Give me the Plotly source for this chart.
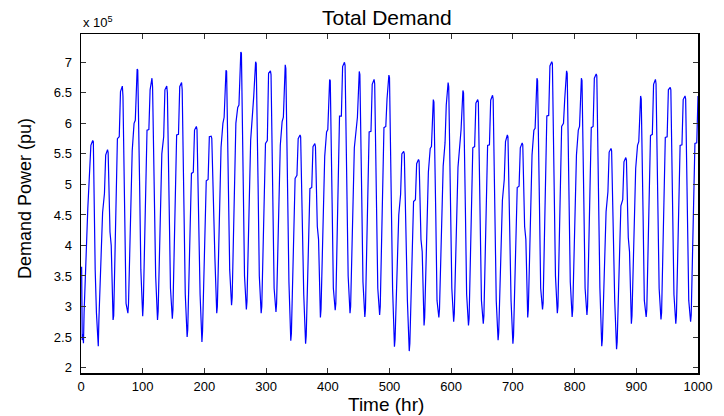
import plotly.graph_objects as go

# ---- data (demand in units of 1e5 pu) ----
hours_start = [1, 2, 3]
demand_start = [3.65, 2.45, 2.55]

# hour-of-day at which each daily level below is read
day_offsets = [4, 5, 11, 14, 16, 19, 20, 23, 25]

trough = [2.40, 2.35, 2.78, 2.89, 2.84, 2.78, 2.80,
          2.50, 2.42, 2.89, 3.02, 2.95, 2.89, 2.91,
          2.44, 2.39, 2.82, 2.94, 2.89, 2.83, 2.86,
          2.34, 2.27, 2.69, 2.82, 2.75, 2.69, 2.72,
          2.45, 2.39, 2.82, 2.95, 2.89, 2.83, 2.86,
          2.35, 2.30, 2.72, 2.83, 2.79, 2.72, 2.75]
trough2 = [2.90, 2.78, 2.85, 3.05, 3.05, 2.92, 2.95,
           2.62, 2.60, 3.00, 3.15, 3.08, 3.00, 3.05,
           2.56, 2.52, 2.95, 3.05, 3.00, 2.95, 3.00,
           2.46, 2.40, 2.82, 2.95, 2.88, 2.80, 2.85,
           2.57, 2.52, 2.95, 3.06, 3.00, 2.95, 3.00,
           2.46, 2.42, 2.85, 2.95, 2.90, 2.85, 2.86]
shoulder1 = [4.60, 4.54, 5.75, 5.55, 5.89, 5.50, 5.81,
             5.18, 5.06, 5.61, 6.00, 5.73, 5.67, 5.64,
             5.10, 4.93, 5.46, 6.12, 5.60, 5.86, 5.93,
             4.50, 4.72, 5.20, 5.30, 5.28, 5.60, 5.64,
             4.74, 4.95, 5.48, 6.12, 5.95, 5.48, 5.93,
             4.55, 4.65, 5.26, 5.80, 5.77, 5.64, 5.67]
shoulder2 = [5.30, 4.85, 5.78, 6.00, 5.90, 5.78, 5.82,
             5.20, 5.08, 6.00, 6.26, 6.14, 5.72, 6.03,
             5.15, 4.95, 5.86, 6.12, 5.98, 5.87, 5.95,
             4.84, 4.75, 5.59, 5.68, 5.70, 5.62, 5.65,
             5.08, 4.97, 5.89, 6.13, 6.00, 5.89, 5.95,
             4.88, 4.75, 5.64, 5.82, 5.78, 5.65, 5.68]
prepeak = [5.64, 5.48, 6.52, 6.05, 6.55, 6.55, 6.60,
           5.89, 5.78, 6.10, 6.30, 6.45, 6.82, 6.10,
           5.75, 5.62, 5.90, 6.93, 6.10, 6.64, 6.40,
           5.50, 5.34, 5.62, 6.30, 5.90, 6.33, 6.38,
           5.70, 5.60, 5.92, 6.94, 6.40, 5.95, 6.74,
           5.53, 5.37, 5.70, 6.64, 6.55, 6.39, 6.45]
peak = [5.72, 5.57, 6.61, 6.89, 6.74, 6.61, 6.67,
        5.95, 5.79, 6.87, 7.17, 7.01, 6.86, 6.96,
        5.81, 5.67, 6.72, 7.00, 6.85, 6.72, 6.79,
        5.54, 5.41, 6.39, 6.67, 6.54, 6.39, 6.46,
        5.81, 5.68, 6.74, 7.01, 6.86, 6.74, 6.81,
        5.59, 5.44, 6.45, 6.72, 6.59, 6.45]
peak2 = [5.70, 5.52, 6.45, 6.87, 6.60, 6.50, 6.55,
         5.90, 5.75, 6.85, 7.15, 6.98, 6.80, 6.90,
         5.78, 5.62, 6.70, 6.95, 6.80, 6.65, 6.75,
         5.50, 5.38, 6.35, 6.60, 6.50, 6.35, 6.40,
         5.78, 5.65, 6.70, 6.98, 6.82, 6.70, 6.78,
         5.55, 5.40, 6.40, 6.65, 6.55, 6.40]
fall1 = [3.60, 4.22, 4.45, 5.00, 5.00, 4.40, 4.30,
         4.30, 4.40, 4.90, 5.00, 5.00, 4.60, 4.80,
         4.00, 4.31, 4.70, 5.00, 4.80, 4.60, 4.80,
         4.00, 4.10, 4.50, 4.80, 4.60, 4.50, 4.50,
         4.00, 4.31, 4.70, 5.00, 4.80, 4.70, 4.70,
         4.00, 4.13, 4.50, 4.80, 4.60, 4.50]
fall2 = [2.90, 4.00, 3.05, 3.60, 3.50, 3.30, 3.20,
         3.20, 3.80, 3.60, 3.50, 3.50, 3.30, 3.40,
         3.20, 4.10, 3.30, 3.50, 3.40, 3.30, 3.30,
         3.10, 3.90, 3.10, 3.30, 3.20, 3.10, 3.10,
         3.10, 4.10, 3.30, 3.50, 3.40, 3.30, 3.30,
         3.10, 3.90, 3.10, 3.30, 3.20, 3.10]

x_ticks = list(range(0, 1001, 100))
y_tick_labels = ["2", "2.5", "3", "3.5", "4", "4.5", "5", "5.5", "6", "6.5", "7"]
y_ticks = [float(t) * 1e5 for t in y_tick_labels]
last_hour = 1000

# ---- assemble hourly series ----
levels = [trough, trough2, shoulder1, shoulder2, prepeak, peak, peak2, fall1, fall2]
hours = list(hours_start)
demand = [v * 1e5 for v in demand_start]
for d in range(len(trough)):
    for off, lv in zip(day_offsets, levels):
        h = 24 * d + off
        if d < len(lv) and h <= last_hour:
            hours.append(h)
            demand.append(lv[d] * 1e5)

FONT = "Liberation Sans, Arial, Helvetica, sans-serif"

fig = go.Figure()
fig.add_trace(go.Scatter(x=hours, y=demand, mode="lines",
                         line=dict(color="#0000FF", width=1.2),
                         hoverinfo="skip", showlegend=False))

axis_common = dict(showline=True, linecolor="black", linewidth=1.5, mirror="ticks",
                   ticks="inside", ticklen=5, tickwidth=1, tickcolor="#333333",
                   showgrid=False, zeroline=False,
                   tickfont=dict(family=FONT, size=13, color="black"))

fig.update_layout(
    width=724, height=416,
    margin=dict(l=81, r=18, t=34, b=43),
    paper_bgcolor="white", plot_bgcolor="white",
    xaxis=dict(range=[0, 1000], tickmode="array", tickvals=x_ticks,
               ticklabelstandoff=1, **axis_common),
    yaxis=dict(range=[1.911e5, 7.464e5], tickmode="array", tickvals=y_ticks,
               ticktext=y_tick_labels, ticklabelstandoff=5, **axis_common),
    annotations=[
        dict(text="Total Demand", xref="paper", yref="paper", x=0.496, y=1.0,
             yshift=17, xanchor="center", yanchor="middle", showarrow=False,
             font=dict(family=FONT, size=21, color="black")),
        dict(text="Time (hr)", xref="paper", yref="paper", x=0.494, y=0,
             yshift=-31, xanchor="center", yanchor="middle", showarrow=False,
             font=dict(family=FONT, size=19, color="black")),
        dict(text="Demand Power (pu)", xref="paper", yref="paper", x=0, y=0.513,
             xshift=-56, xanchor="center", yanchor="middle", textangle=-90,
             showarrow=False, font=dict(family=FONT, size=18, color="black")),
        dict(text="x 10<sup>5</sup>", xref="paper", yref="paper", x=0, y=1.0,
             xshift=0, yshift=2, xanchor="left", yanchor="bottom", showarrow=False,
             font=dict(family=FONT, size=13, color="black")),
    ],
)

fig.write_html("out.html",
               config={"displayModeBar": False, "staticPlot": True},
               post_script="document.body.style.margin='0';"
                           "document.body.style.overflow='hidden';")
